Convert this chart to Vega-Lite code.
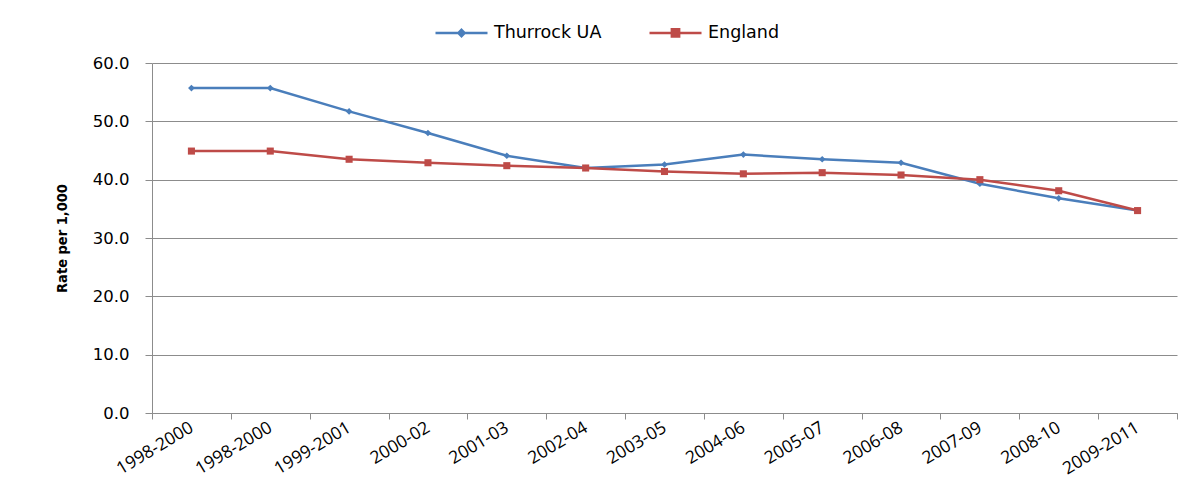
{
  "$schema": "https://vega.github.io/schema/vega-lite/v6.json",
  "width": 1025,
  "height": 350,
  "autosize": "none",
  "padding": {"left": 152, "top": 63, "right": 10, "bottom": 81},
  "background": "white",
  "config": {
    "view": {"stroke": null},
    "axis": {"domainColor": "#8c8c8c", "tickColor": "#8c8c8c", "gridColor": "#8c8c8c", "labelColor": "#000000"}
  },
  "data": {
    "values": [
      {"period": "1998-2000", "series": "Thurrock UA", "rate": 55.7},
      {"period": "1998-2000\u200b", "series": "Thurrock UA", "rate": 55.7},
      {"period": "1999-2001", "series": "Thurrock UA", "rate": 51.7},
      {"period": "2000-02", "series": "Thurrock UA", "rate": 48.0},
      {"period": "2001-03", "series": "Thurrock UA", "rate": 44.1},
      {"period": "2002-04", "series": "Thurrock UA", "rate": 42.0},
      {"period": "2003-05", "series": "Thurrock UA", "rate": 42.6},
      {"period": "2004-06", "series": "Thurrock UA", "rate": 44.3},
      {"period": "2005-07", "series": "Thurrock UA", "rate": 43.5},
      {"period": "2006-08", "series": "Thurrock UA", "rate": 42.9},
      {"period": "2007-09", "series": "Thurrock UA", "rate": 39.3},
      {"period": "2008-10", "series": "Thurrock UA", "rate": 36.8},
      {"period": "2009-2011", "series": "Thurrock UA", "rate": 34.7},
      {"period": "1998-2000", "series": "England", "rate": 44.9},
      {"period": "1998-2000\u200b", "series": "England", "rate": 44.9},
      {"period": "1999-2001", "series": "England", "rate": 43.5},
      {"period": "2000-02", "series": "England", "rate": 42.9},
      {"period": "2001-03", "series": "England", "rate": 42.4},
      {"period": "2002-04", "series": "England", "rate": 42.0},
      {"period": "2003-05", "series": "England", "rate": 41.4},
      {"period": "2004-06", "series": "England", "rate": 41.0},
      {"period": "2005-07", "series": "England", "rate": 41.2},
      {"period": "2006-08", "series": "England", "rate": 40.8},
      {"period": "2007-09", "series": "England", "rate": 40.0},
      {"period": "2008-10", "series": "England", "rate": 38.1},
      {"period": "2009-2011", "series": "England", "rate": 34.7}
    ]
  },
  "encoding": {
    "x": {
      "field": "period", "type": "ordinal", "sort": null, "title": null,
      "scale": {"paddingInner": 0, "paddingOuter": 0},
      "axis": {"tickBand": "extent", "labelAngle": -31, "labelFont": "Open Sans", "labelFontSize": 17.5, "labelPadding": 7, "tickSize": 6, "grid": false, "labelAlign": "right", "labelBaseline": "middle"}
    },
    "y": {
      "field": "rate", "type": "quantitative", "title": "Rate per 1,000",
      "scale": {"domain": [0, 60], "nice": false},
      "axis": {"values": [0, 10, 20, 30, 40, 50, 60], "format": ".1f", "grid": true, "labelFont": "DejaVu Sans", "labelFontSize": 16.5, "labelPadding": 16, "tickSize": 7,
        "titleFont": "DejaVu Sans Condensed", "titleFontSize": 14.5, "titleFontWeight": "bold", "titleColor": "#000000", "titleX": -90, "titleY": 175, "titleAngle": -90, "titleAlign": "center", "titleBaseline": "middle"}
    },
    "color": {
      "field": "series", "type": "nominal",
      "scale": {"domain": ["Thurrock UA", "England"], "range": ["#4A7EBB", "#BE4B48"]}
    }
  },
  "layer": [
    {
      "mark": {"type": "line", "strokeWidth": 2.5},
      "encoding": {
        "color": {
          "field": "series", "type": "nominal",
          "scale": {"domain": ["Thurrock UA", "England"], "range": ["#4A7EBB", "#BE4B48"]},
          "legend": {
            "orient": "none", "legendX": 282, "legendY": -58, "direction": "horizontal", "title": null, "padding": 0,
            "symbolType": "M-1,0H1", "symbolSize": 2704, "symbolStrokeWidth": 2.5,
            "labelFont": "DejaVu Sans", "labelFontSize": 17.5, "labelColor": "#000000", "labelOffset": 5, "columnPadding": 42,
            "encode": {"symbols": {"update": {
              "shape": {"signal": "datum.value === 'England' ? 'M-1,0H1M-0.14,-0.14H0.14V0.14H-0.14Z' : 'M-1,0H1M0,-0.12L0.12,0L0,0.12L-0.12,0Z'"},
              "fill": {"signal": "scale('color', datum.value)"},
              "stroke": {"signal": "scale('color', datum.value)"}
            }}}
          }
        }
      }
    },
    {
      "transform": [{"filter": "datum.series === 'Thurrock UA'"}],
      "mark": {"type": "point", "filled": true, "opacity": 1, "shape": "diamond", "size": 45},
      "encoding": {"color": {"field": "series", "type": "nominal", "legend": null}}
    },
    {
      "transform": [{"filter": "datum.series === 'England'"}],
      "mark": {"type": "point", "filled": true, "opacity": 1, "shape": "square", "size": 50},
      "encoding": {"color": {"field": "series", "type": "nominal", "legend": null}}
    }
  ]
}
